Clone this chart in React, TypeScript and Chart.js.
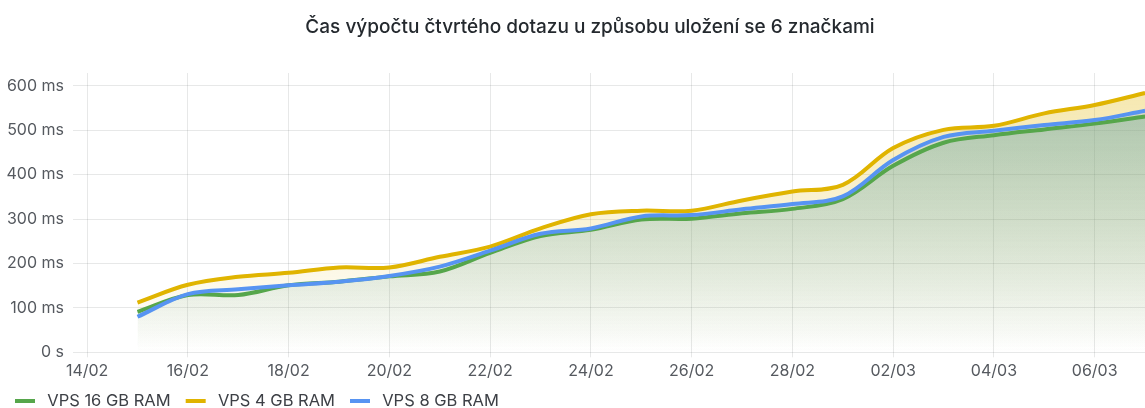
import React, { useEffect, useRef } from "react";
import { Chart, registerables } from "chart.js";

Chart.register(...registerables);

const titleText = "Čas výpočtu čtvrtého dotazu u způsobu uložení se 6 značkami";

const dates = [
  "15/02", "16/02", "17/02", "18/02", "19/02", "20/02", "21/02", "22/02", "23/02", "24/02", "25/02",
  "26/02", "27/02", "28/02", "01/03", "02/03", "03/03", "04/03", "05/03", "06/03", "07/03",
];

const seriesNames = ["VPS 16 GB RAM", "VPS 4 GB RAM", "VPS 8 GB RAM"];

const vps16 = [91, 129, 129, 151, 159, 171, 182, 224, 262, 276, 299, 301, 313, 323, 345, 420, 472, 489, 502, 515, 531];
const vps4 = [112, 152, 170, 179, 191, 191, 215, 238, 279, 311, 319, 319, 342, 362, 377, 460, 501, 510, 538, 557, 584];
const vps8 = [80, 131, 142, 151, 159, 172, 193, 229, 267, 279, 306, 309, 322, 334, 351, 433, 485, 499, 512, 523, 544];

const xTickLabels = ["14/02", "16/02", "18/02", "20/02", "22/02", "24/02", "26/02", "28/02", "02/03", "04/03", "06/03"];
const yTickValues = [0, 100, 200, 300, 400, 500, 600];
const yTickLabels = ["0 s", "100 ms", "200 ms", "300 ms", "400 ms", "500 ms", "600 ms"];

const BASE = Date.UTC(2023, 1, 14);
const dayOf = (s: string) => {
  const [d, m] = s.split("/").map(Number);
  return (Date.UTC(2023, m - 1, d) - BASE) / 86400000;
};

const colors = ["#56A64B", "#E0B400", "#5794F2"];
const fillAlpha = [0.3, 0.33, 0.28];
const drawOrder = [1, 2, 0];

const hexToRgba = (hex: string, a: number) => {
  const n = parseInt(hex.slice(1), 16);
  return `rgba(${(n >> 16) & 255},${(n >> 8) & 255},${n & 255},${a})`;
};

const FONT = "Inter";
const CANVAS_W = 1180;
const CANVAS_H = 408;

// legend swatch: a short thick line with a little space around it
const makeSwatch = (color: string) => {
  const c = document.createElement("canvas");
  c.width = 26;
  c.height = 4;
  const g = c.getContext("2d")!;
  g.fillStyle = color;
  g.fillRect(2, 0, 20, 4);
  return c;
};

export default function App() {
  const ref = useRef<HTMLCanvasElement | null>(null);

  useEffect(() => {
    if (!ref.current) return;
    const all = [vps16, vps4, vps8];
    const swatches = colors.map(makeSwatch);
    const datasets = all.map((vals, i) => ({
      label: seriesNames[i],
      data: vals.map((v, j) => ({ x: dayOf(dates[j]), y: v })),
      borderColor: colors[i],
      borderWidth: 4,
      pointRadius: 0,
      tension: 0.35,
      fill: "origin",
      order: drawOrder[i],
      backgroundColor: (ctx: any) => {
        const chart = ctx.chart;
        const area = chart.chartArea;
        if (!area) return hexToRgba(colors[i], 0.1);
        const g = chart.ctx.createLinearGradient(0, area.top, 0, area.bottom);
        g.addColorStop(0, hexToRgba(colors[i], fillAlpha[i]));
        g.addColorStop(1, hexToRgba(colors[i], 0));
        return g;
      },
    }));

    const gridColor = "rgba(36,41,46,0.11)";
    const tickColor = "#55595f";

    const chart = new Chart(ref.current, {
      type: "line",
      data: { datasets },
      options: {
        animation: false,
        responsive: false,
        layout: { padding: { left: 0, right: 0, top: 0, bottom: -11.25 } },
        plugins: {
          filler: { drawTime: "beforeDatasetsDraw" },
          tooltip: { enabled: false },
          title: {
            display: true,
            text: titleText,
            color: "#24292e",
            font: { family: FONT, size: 19, weight: "500" },
            padding: { top: 15.6, bottom: 34.6 },
          },
          legend: {
            display: true,
            position: "bottom",
            align: "start",
            labels: {
              usePointStyle: true,
              pointStyleWidth: 26,
              boxHeight: 4,
              padding: 13,
              color: "#3d4046",
              font: { family: FONT, size: 16.5 },
              sort: (a: any, b: any) => a.datasetIndex - b.datasetIndex,
              generateLabels: (c: any) =>
                Chart.defaults.plugins.legend.labels.generateLabels(c).map((it: any) => ({
                  ...it,
                  pointStyle: swatches[it.datasetIndex],
                  fillStyle: colors[it.datasetIndex],
                  strokeStyle: colors[it.datasetIndex],
                  lineWidth: 0,
                })),
            },
          },
        },
        scales: {
          x: {
            type: "linear",
            min: -0.28,
            max: -0.28 + (CANVAS_W - 73) / 50.38,
            afterBuildTicks: (s: any) => {
              s.ticks = xTickLabels.map((l) => ({ value: dayOf(l) }));
            },
            afterFit: (s: any) => {
              s.height = 27.45;
            },
            ticks: {
              autoSkip: false,
              maxRotation: 0,
              padding: 4,
              color: tickColor,
              font: { family: FONT, size: 16 },
              callback: (v: any) => {
                const k = xTickLabels.find((l) => dayOf(l) === v);
                return k ?? "";
              },
            },
            grid: { color: gridColor, tickLength: 5, drawTicks: true },
            border: { display: false },
          },
          y: {
            type: "linear",
            min: 0,
            max: 629,
            afterBuildTicks: (s: any) => {
              s.ticks = yTickValues.map((v) => ({ value: v }));
            },
            afterFit: (s: any) => {
              s.width = 73;
            },
            ticks: {
              padding: 9,
              color: tickColor,
              font: { family: FONT, size: 16 },
              callback: (v: any) => {
                const i = yTickValues.indexOf(v);
                return i >= 0 ? yTickLabels[i] : "";
              },
            },
            grid: { color: gridColor, drawTicks: false },
            border: { display: false },
          },
        },
      },
    });
    return () => chart.destroy();
  }, []);

  return (
    <div style={{ position: "fixed", left: 0, top: 0, width: 1145, height: 408, overflow: "hidden", background: "#fff" }}>
      <canvas ref={ref} width={CANVAS_W} height={CANVAS_H} style={{ display: "block" }} />
    </div>
  );
}
